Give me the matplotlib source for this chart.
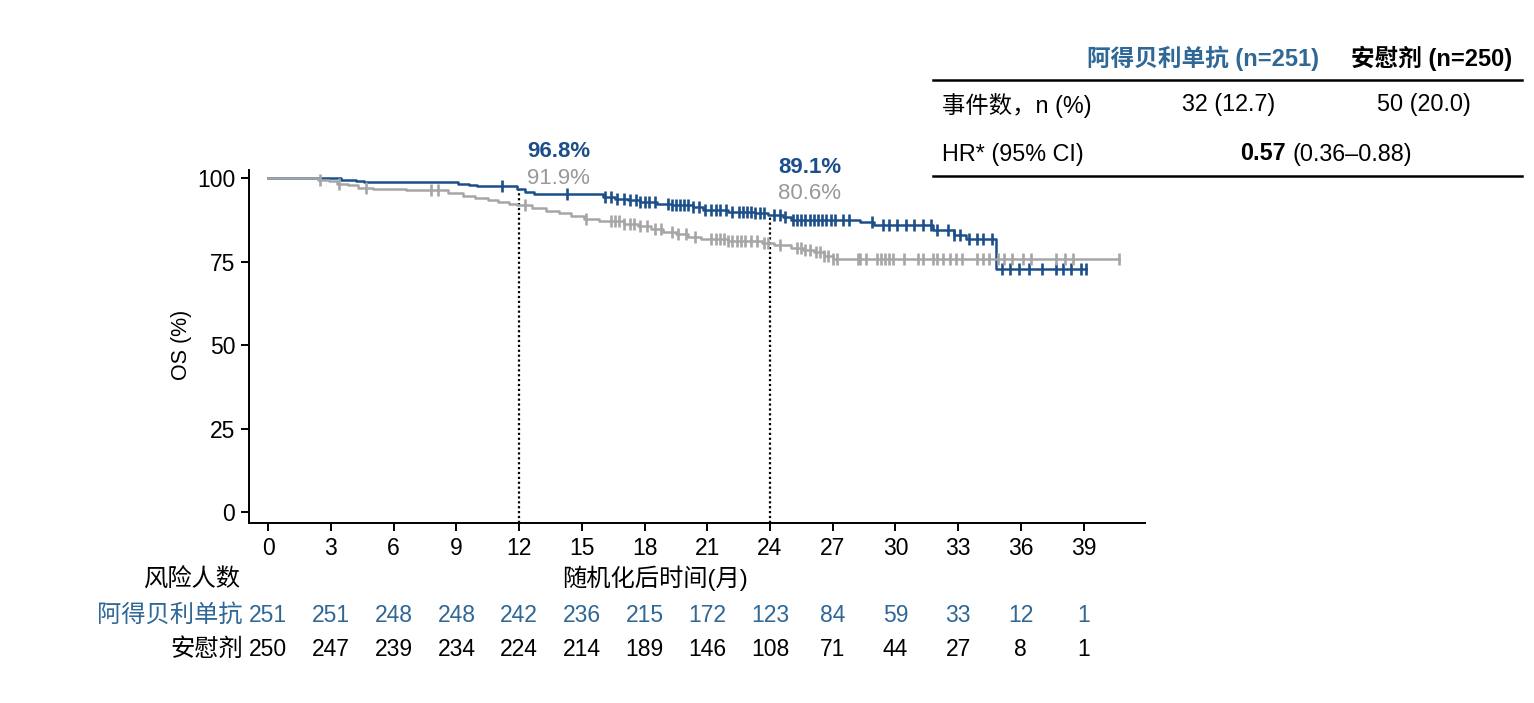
import numpy as np
import matplotlib.pyplot as plt
import matplotlib.transforms as mtransforms

plt.rcParams['font.family'] = ['Liberation Sans', 'Noto Sans CJK SC']

# KM steps (months, OS %)
adb_t = [0, 3.5, 4.2, 4.6, 9.1, 9.6, 10.0, 11.9, 12.3, 12.7, 16.0, 16.6, 17.2, 17.8, 18.6, 19.3,
         20.3, 20.8, 22.0, 23.3, 23.9, 24.6, 25.0, 28.3, 29.0, 31.8, 32.8, 33.4, 34.8]
adb_s = [100, 99.6, 99.2, 98.8, 98.4, 98.0, 97.6, 96.8, 96.0, 95.2, 94.4, 93.9, 93.4, 92.9, 92.4, 91.9,
         91.3, 90.6, 90.0, 89.5, 89.1, 88.3, 87.5, 86.9, 86.0, 84.5, 83.1, 81.7, 72.8]
adb_end = 39.1
adb_cens = [11.2, 14.3, 16.1, 16.4, 16.7, 17.0, 17.3, 17.6, 17.8, 18.0, 18.2, 18.5, 19.1, 19.3, 19.5,
            19.7, 19.9, 20.1, 20.3, 20.6, 20.9, 21.2, 21.4, 21.6, 21.9, 22.2, 22.5, 22.7, 22.9, 23.1,
            23.3, 23.5, 23.7, 24.2, 24.5, 24.7, 25.1, 25.3, 25.5, 25.7, 25.9, 26.1, 26.3, 26.5, 26.7,
            26.9, 27.1, 27.5, 27.8, 28.9, 29.4, 29.7, 30.1, 30.5, 30.9, 31.3, 31.7, 32.0, 32.5, 32.8,
            33.1, 33.5, 33.9, 34.2, 34.6, 35.1, 35.5, 35.9, 36.4, 37.0, 37.7, 38.0, 38.4, 38.9, 39.1]

pbo_t = [0, 2.4, 2.9, 3.3, 3.8, 4.3, 5.0, 6.6, 8.6, 9.3, 9.9, 10.5, 11.0, 11.5, 11.9, 12.6, 13.3,
         13.9, 14.5, 15.1, 15.8, 17.0, 17.7, 18.3, 18.9, 19.5, 20.1, 20.7, 22.0, 23.6, 24.2, 25.0,
         25.6, 26.1, 26.6, 27.0]
pbo_s = [100, 99.6, 99.2, 98.4, 97.9, 97.2, 96.8, 96.4, 95.6, 94.8, 94.0, 93.4, 92.8, 92.3, 91.9,
         91.1, 90.3, 89.5, 88.7, 87.9, 87.3, 86.4, 85.6, 84.8, 84.0, 83.2, 82.5, 81.7, 81.2, 80.6,
         79.9, 79.2, 78.5, 77.8, 76.8, 75.8]
pbo_end = 40.7
pbo_cens = [2.5, 3.4, 4.7, 7.8, 8.1, 12.3, 15.2, 16.4, 16.6, 16.8, 17.0, 17.3, 17.5, 17.8, 18.1, 18.5,
            18.8, 19.3, 19.6, 20.0, 20.4, 21.2, 21.4, 21.6, 21.8, 22.0, 22.2, 22.4, 22.6, 22.8, 23.1,
            23.4, 23.7, 23.9, 24.5, 25.3, 25.5, 25.7, 25.9, 26.2, 26.4, 26.6, 26.8, 27.0, 27.2, 28.2,
            28.3, 28.6, 29.1, 29.3, 29.5, 29.7, 29.9, 30.4, 31.1, 31.3, 31.8, 32.0, 32.3, 32.6, 32.9,
            33.2, 33.9, 34.2, 34.5, 34.9, 35.2, 35.6, 36.1, 36.5, 37.7, 38.1, 38.5, 40.7]

xticks = list(range(0, 40, 3))
risk_adb = [251, 251, 248, 248, 242, 236, 215, 172, 123, 84, 59, 33, 12, 1]
risk_pbo = [250, 247, 239, 234, 224, 214, 189, 146, 108, 71, 44, 27, 8, 1]

landmarks = [12, 24]
lm_adb = ['96.8%', '89.1%']
lm_pbo = ['91.9%', '80.6%']
lm_adb_val = [96.8, 89.1]

BLUE = '#1c4f8a'
GREY = '#a6a6a6'
TXT_BLUE = '#2f6796'

W, H = 1534, 703
fig = plt.figure(figsize=(W / 100, H / 100), dpi=100)
ax = fig.add_axes([249 / W, 1 - 522.7 / H, (1145 - 249) / W, (522.7 - 170) / H])


def km_draw(t, s, end, cens, color, z):
    tt = list(t) + [end]
    ss = list(s) + [s[-1]]
    ax.step(tt, ss, where='post', color=color, lw=1.8, zorder=z)
    ta = np.array(t)
    sa = np.array(s)
    cy = sa[np.searchsorted(ta, cens, side='right') - 1]
    ax.plot(cens, cy, ls='none', marker='|', ms=9, mew=1.9, color=color, zorder=z)


km_draw(adb_t, adb_s, adb_end, adb_cens, BLUE, 3)
km_draw(pbo_t, pbo_s, pbo_end, pbo_cens, GREY, 4)

for x, v, a, p in zip(landmarks, lm_adb_val, lm_adb, lm_pbo):
    ax.plot([x, x], [-3.1, v], ls=(0, (1, 1.2)), color='black', lw=1.6, zorder=2)
    ax.text(x + 0.38, 107.9 if x == 12 else 103.1, a, color=BLUE, fontsize=16, fontweight='bold',
            ha='left', va='center', clip_on=False)
    ax.text(x + 0.38, 100.1 if x == 12 else 95.6, p, color='#999999', fontsize=16,
            ha='left', va='center', clip_on=False)

ax.set_xlim(-0.92, 41.94)
ax.set_ylim(-3.1, 102.5)
ax.set_xticks(xticks)
ax.set_yticks([0, 25, 50, 75, 100])
ax.spines['top'].set_visible(False)
ax.spines['right'].set_visible(False)
for sp in ['left', 'bottom']:
    ax.spines[sp].set_linewidth(1.4)
ax.tick_params(axis='both', labelsize=16.5, length=6, width=1.4, pad=4)

fig.text(181 / W, 1 - 345 / H, 'OS (%)', rotation=90, fontsize=15.5, ha='center', va='center')
fig.text(655 / W, 1 - 578 / H, '随机化后时间(月)', fontsize=17.5, ha='center', va='center')

# risk table
fig.text(240 / W, 1 - 580 / H, '风险人数', fontsize=17.5, ha='right', va='center')
fig.text(243 / W, 1 - 615 / H, '阿得贝利单抗', fontsize=17.5, ha='right', va='center', color=TXT_BLUE)
fig.text(243 / W, 1 - 650 / H, '安慰剂', fontsize=17.5, ha='right', va='center')
trans = mtransforms.blended_transform_factory(ax.transData, fig.transFigure)
for x, a, p in zip(xticks, risk_adb, risk_pbo):
    ax.text(x, 1 - 615 / H, str(a), transform=trans, fontsize=16.5, ha='center', va='center',
            color=TXT_BLUE, clip_on=False)
    ax.text(x, 1 - 650 / H, str(p), transform=trans, fontsize=16.5, ha='center', va='center',
            clip_on=False)

# summary table, top right
fig.add_artist(plt.Line2D([933 / W, 1522 / W], [1 - 80 / H, 1 - 80 / H], color='black', lw=1.8))
fig.add_artist(plt.Line2D([933 / W, 1522 / W], [1 - 176 / H, 1 - 176 / H], color='black', lw=1.8))
fig.text(1203 / W, 1 - 58 / H, '阿得贝利单抗 (n=251)', fontsize=17, fontweight='bold',
         color=TXT_BLUE, ha='center', va='center')
fig.text(1432 / W, 1 - 58 / H, '安慰剂 (n=250)', fontsize=17, fontweight='bold',
         ha='center', va='center')
fig.text(942 / W, 1 - 105 / H, '事件数，n (%)', fontsize=16.8, ha='left', va='center')
fig.text(1229 / W, 1 - 105 / H, '32 (12.7)', fontsize=16.8, ha='center', va='center')
fig.text(1424 / W, 1 - 105 / H, '50 (20.0)', fontsize=16.8, ha='center', va='center')
fig.text(942 / W, 1 - 154 / H, 'HR* (95% CI)', fontsize=16.8, ha='left', va='center')
fig.text(1286 / W, 1 - 154 / H, '0.57', fontsize=16.8, fontweight='bold', ha='right', va='center')
fig.text(1292 / W, 1 - 154 / H, '(0.36–0.88)', fontsize=16.8, ha='left', va='center')

fig.savefig('out.png', dpi=100)
